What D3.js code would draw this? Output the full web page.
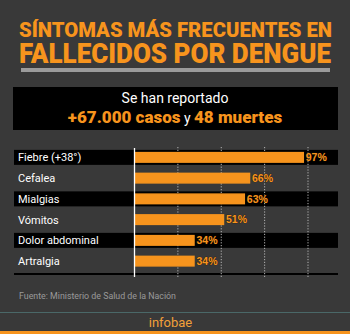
<!DOCTYPE html>
<html>
<head>
<meta charset="utf-8">
<script src="https://cdn.jsdelivr.net/npm/d3@7/dist/d3.min.js"></script>
<style>
  html, body { margin: 0; padding: 0; background: #393939; }
  svg { display: block; }
</style>
</head>
<body>
<script>
// Síntomas más frecuentes en fallecidos por dengue (porcentaje de casos)
const symptoms = ["Fiebre (+38°)", "Cefalea", "Mialgias", "Vómitos", "Dolor abdominal", "Artralgia"];
const percents = [97, 66, 63, 51, 34, 34];
const gridTicks = [25, 50, 75, 100];

const titleLines = ["SÍNTOMAS MÁS FRECUENTES EN", "FALLECIDOS POR DENGUE"];
const sourceText = "Fuente: Ministerio de Salud de la Nación";

const W = 350, H = 334;
const ORANGE = "#f7941d";

const svg = d3.select("body").append("svg")
  .attr("width", W).attr("height", H);

svg.append("rect").attr("width", W).attr("height", H).attr("fill", "#393939");

// Title
const titleFont = "Roboto, 'Open Sans', sans-serif";
svg.append("text")
  .attr("x", 19).attr("y", 37)
  .attr("textLength", 313).attr("lengthAdjust", "spacingAndGlyphs")
  .attr("font-family", titleFont).attr("font-weight", 900).attr("font-size", 20.5)
  .attr("fill", ORANGE).text(titleLines[0]);
svg.append("text")
  .attr("x", 19).attr("y", 63)
  .attr("textLength", 312).attr("lengthAdjust", "spacingAndGlyphs")
  .attr("font-family", titleFont).attr("font-weight", 900).attr("font-size", 28)
  .attr("fill", ORANGE).text(titleLines[1]);
svg.append("rect").attr("x", 21).attr("y", 68).attr("width", 309).attr("height", 4)
  .attr("fill", "#9b9b9b");

// Summary box
svg.append("rect").attr("x", 13).attr("y", 87).attr("width", 325).attr("height", 43)
  .attr("fill", "#000");
svg.append("text")
  .attr("x", 175).attr("y", 103).attr("text-anchor", "middle")
  .attr("font-family", "Roboto, sans-serif").attr("font-size", 14)
  .attr("fill", "#fff").text("Se han reportado");
const line2 = svg.append("text")
  .attr("x", 175).attr("y", 123).attr("text-anchor", "middle")
  .attr("font-family", "Roboto, sans-serif").attr("font-size", 17);
line2.append("tspan").attr("font-weight", 900).attr("fill", ORANGE).text("+67.000 casos");
line2.append("tspan").attr("fill", "#fff").attr("font-size", 14).text(" y ");
line2.append("tspan").attr("font-weight", 900).attr("fill", ORANGE).text("48 muertes");

// Bar chart
const x = d3.scaleLinear().domain([0, 100]).range([134.5, 308]);
const y = d3.scaleBand().domain(symptoms).range([147, 271.5]).paddingInner(0).paddingOuter(0);
const bandH = 15, barH = 9.5;

const rows = svg.append("g");
// alternating black bands behind odd rows
rows.selectAll("rect.band")
  .data(symptoms.filter((d, i) => i % 2 === 0))
  .join("rect").attr("class", "band")
  .attr("x", 14).attr("width", 324)
  .attr("y", d => y(d) + y.bandwidth() / 2 - bandH / 2)
  .attr("height", bandH)
  .attr("fill", "#000");

// bottom baseline strip
svg.append("rect").attr("x", 14).attr("width", 324)
  .attr("y", 273).attr("height", 2).attr("fill", "#000");

// dotted gridlines
svg.append("g").selectAll("line")
  .data(gridTicks).join("line")
  .attr("x1", d => x(d)).attr("x2", d => x(d))
  .attr("y1", 147).attr("y2", 277)
  .attr("stroke", "#b5b5b5").attr("stroke-width", 1)
  .attr("stroke-dasharray", "1.2,1.6");

// bars
svg.append("g").selectAll("rect")
  .data(symptoms).join("rect")
  .attr("x", x(0) + 0.5)
  .attr("y", d => y(d) + y.bandwidth() / 2 - barH / 2)
  .attr("width", (d, i) => x(percents[i]) - x(0))
  .attr("height", barH)
  .attr("fill", ORANGE)
  .attr("stroke", ORANGE).attr("stroke-width", 1.5);

// zero axis line
svg.append("line")
  .attr("x1", x(0)).attr("x2", x(0))
  .attr("y1", 148).attr("y2", 277)
  .attr("stroke", "#fff").attr("stroke-width", 1.3);

// category labels
svg.append("g").selectAll("text")
  .data(symptoms).join("text")
  .attr("x", 18)
  .attr("y", d => y(d) + y.bandwidth() / 2 + 4)
  .attr("font-family", "Roboto, sans-serif").attr("font-size", 11)
  .attr("fill", "#fff")
  .text(d => d);

// value labels
svg.append("g").selectAll("text")
  .data(symptoms).join("text")
  .attr("x", (d, i) => x(percents[i]) + 3)
  .attr("y", d => y(d) + y.bandwidth() / 2 + 3.8)
  .attr("font-family", "'Liberation Sans', Arial, sans-serif")
  .attr("font-weight", 700).attr("font-size", 10.5)
  .attr("fill", ORANGE)
  .attr("stroke", "#2a1a05").attr("stroke-width", 0.6).attr("paint-order", "stroke")
  .text((d, i) => percents[i] + "%");

// Source
svg.append("text")
  .attr("x", 19).attr("y", 298.5)
  .attr("textLength", 157).attr("lengthAdjust", "spacingAndGlyphs")
  .attr("font-family", "Roboto, sans-serif").attr("font-size", 9.5)
  .attr("fill", "#9a9a9a").text(sourceText);

// Footer
svg.append("rect").attr("x", 0).attr("y", 312).attr("width", W).attr("height", 1)
  .attr("fill", "#4a6868");
svg.append("text")
  .attr("x", 170.5).attr("y", 327).attr("text-anchor", "middle")
  .attr("font-family", "Roboto, sans-serif").attr("font-size", 13)
  .attr("fill", "#f2a03a").text("infobae");
svg.append("rect").attr("x", 0).attr("y", 331).attr("width", W).attr("height", 3)
  .attr("fill", ORANGE);
</script>
</body>
</html>
